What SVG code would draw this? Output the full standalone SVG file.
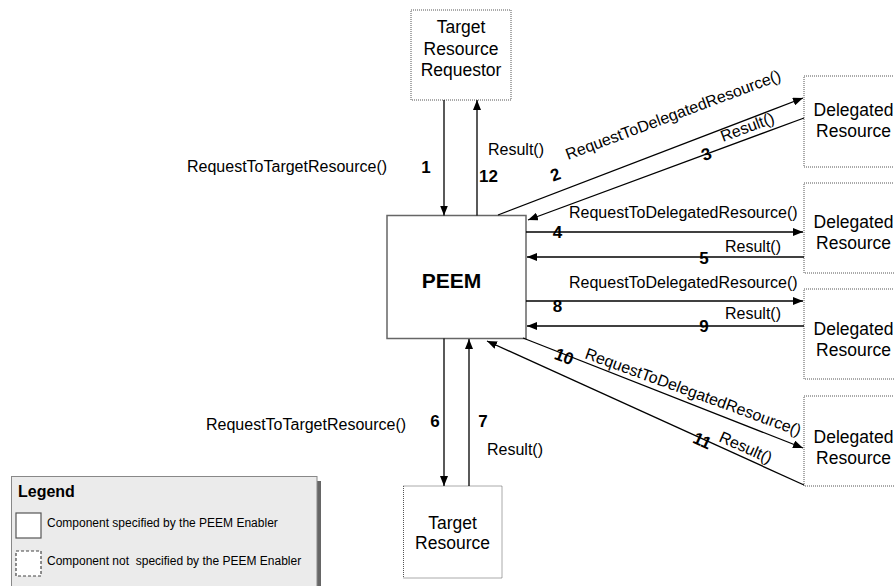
<svg xmlns="http://www.w3.org/2000/svg" width="894" height="586" viewBox="0 0 894 586">
  <defs>
    <marker id="arrow" markerUnits="userSpaceOnUse" markerWidth="10" markerHeight="8" refX="10" refY="4" orient="auto">
      <path d="M0,0 L10,4 L0,8 z" fill="#000"/>
    </marker>
    <style>
      text { font-family: "Liberation Sans", Arial, sans-serif; fill: #000; }
      .ext { fill: #fff; stroke: #555; stroke-width: 1; stroke-dasharray: 1 1; }
      .core { fill: #fff; stroke: #666; stroke-width: 1.5; }
      .box-label { font-size: 17.5px; text-anchor: middle; }
      .peem { font-size: 21px; font-weight: bold; text-anchor: middle; }
      .msg { font-size: 16px; }
      .num { font-size: 17px; font-weight: bold; text-anchor: middle; }
      .conn line { stroke: #000; stroke-width: 1.3; marker-end: url(#arrow); }
      .legend-text { font-size: 12px; }
    </style>
  </defs>

  <rect width="894" height="586" fill="#fff"/>

  <!-- Nodes -->
  <g id="target-resource-requestor">
    <rect class="ext" x="411" y="10" width="100" height="90"/>
    <text class="box-label" x="461" y="32.5">Target</text>
    <text class="box-label" x="461" y="54.5">Resource</text>
    <text class="box-label" x="461" y="76">Requestor</text>
  </g>

  <g id="peem">
    <rect class="core" x="387" y="215.5" width="139" height="123"/>
    <text class="peem" x="451.5" y="288">PEEM</text>
  </g>

  <g id="target-resource">
    <rect class="ext" x="403.5" y="486" width="98.5" height="92"/>
    <text class="box-label" x="452.5" y="528.5">Target</text>
    <text class="box-label" x="452.5" y="549">Resource</text>
  </g>

  <g id="delegated-resource-1">
    <rect class="ext" x="804" y="76" width="100" height="91"/>
    <text class="box-label" x="853.5" y="116">Delegated</text>
    <text class="box-label" x="853.5" y="137">Resource</text>
  </g>

  <g id="delegated-resource-2">
    <rect class="ext" x="804" y="183" width="100" height="90"/>
    <text class="box-label" x="853.5" y="228">Delegated</text>
    <text class="box-label" x="853.5" y="249">Resource</text>
  </g>

  <g id="delegated-resource-3">
    <rect class="ext" x="804" y="289" width="100" height="90"/>
    <text class="box-label" x="853.5" y="335">Delegated</text>
    <text class="box-label" x="853.5" y="356">Resource</text>
  </g>

  <g id="delegated-resource-4">
    <rect class="ext" x="804" y="396" width="100" height="90"/>
    <text class="box-label" x="853.5" y="443">Delegated</text>
    <text class="box-label" x="853.5" y="464">Resource</text>
  </g>

  <!-- Connectors -->
  <g id="connectors" class="conn">
    <line x1="444" y1="100" x2="444" y2="215.5"/>
    <line x1="477" y1="215.5" x2="477" y2="100"/>
    <line x1="498" y1="215" x2="803" y2="98"/>
    <line x1="804" y1="118" x2="528" y2="220"/>
    <line x1="526" y1="232" x2="803" y2="232"/>
    <line x1="804" y1="257" x2="527" y2="257"/>
    <line x1="526" y1="301" x2="803" y2="301"/>
    <line x1="804" y1="326" x2="527" y2="326"/>
    <line x1="444" y1="338.5" x2="444" y2="486"/>
    <line x1="469" y1="486" x2="469" y2="339"/>
    <line x1="523" y1="338" x2="803" y2="448"/>
    <line x1="804" y1="485" x2="487" y2="341"/>
  </g>

  <!-- Message labels -->
  <g id="message-labels">
    <text class="msg" x="187" y="172">RequestToTargetResource()</text>
    <text class="msg" x="488" y="155">Result()</text>
    <text class="msg" x="206" y="430">RequestToTargetResource()</text>
    <text class="msg" x="487" y="455">Result()</text>
    <text class="msg" x="569" y="218">RequestToDelegatedResource()</text>
    <text class="msg" x="725" y="252">Result()</text>
    <text class="msg" x="569" y="288">RequestToDelegatedResource()</text>
    <text class="msg" x="725" y="319">Result()</text>
    <text class="msg" transform="translate(568,160) rotate(-20.5)">RequestToDelegatedResource()</text>
    <text class="msg" transform="translate(723,142) rotate(-20.5)">Result()</text>
    <text class="msg" transform="translate(584,358) rotate(20)">RequestToDelegatedResource()</text>
    <text class="msg" transform="translate(718,441) rotate(24)">Result()</text>
  </g>

  <!-- Sequence numbers -->
  <g id="sequence-numbers">
    <text class="num" x="426" y="173">1</text>
    <text class="num" x="488.5" y="182">12</text>
    <text class="num" x="557.5" y="238">4</text>
    <text class="num" x="704" y="263.5">5</text>
    <text class="num" x="557.5" y="312">8</text>
    <text class="num" x="704" y="332">9</text>
    <text class="num" x="435" y="427">6</text>
    <text class="num" x="483" y="427">7</text>
    <text class="num" transform="translate(557.5,180) rotate(-20.5)">2</text>
    <text class="num" transform="translate(708.5,159.5) rotate(-20.5)">3</text>
    <text class="num" transform="translate(562,362) rotate(21)">10</text>
    <text class="num" transform="translate(700,446) rotate(24)">11</text>
  </g>

  <!-- Legend -->
  <g id="legend">
    <rect x="317" y="481" width="4" height="110" fill="#666"/>
    <rect x="11.5" y="476.5" width="305.5" height="115" fill="#ebebeb" stroke="#888" stroke-width="1"/>
    <text x="18" y="497" font-size="16" font-weight="bold">Legend</text>
    <rect x="16" y="513" width="25" height="25" fill="#fff" stroke="#555" stroke-width="1.2"/>
    <text class="legend-text" x="47" y="527">Component specified by the PEEM Enabler</text>
    <rect x="16" y="551" width="25" height="25" fill="#fff" stroke="#444" stroke-width="1.2" stroke-dasharray="3 2"/>
    <text class="legend-text" x="47" y="565" xml:space="preserve">Component not  specified by the PEEM Enabler</text>
  </g>
</svg>
